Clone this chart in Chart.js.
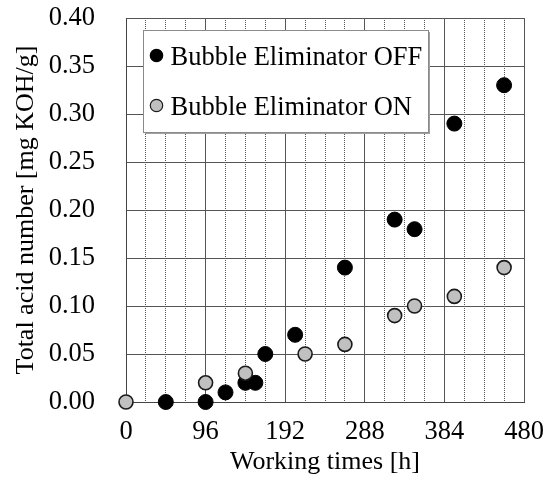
<!DOCTYPE html>
<html>
<head>
<meta charset="utf-8">
<script src="https://cdn.jsdelivr.net/npm/chart.js@4/dist/chart.umd.min.js"></script>
<style>
  html, body { margin: 0; padding: 0; background: #fff; }
  #wrap { width: 552px; height: 477px; }
</style>
</head>
<body>
<div id="wrap"><canvas id="graph"></canvas></div>
<script>
// working time [h] and total acid number [mg KOH/g]
const timesOff = [48, 96, 120, 144, 156, 168, 204, 264, 324, 348, 396, 456];
const tanOff = [0, 0, 0.01, 0.02, 0.02, 0.05, 0.07, 0.14, 0.19, 0.18, 0.29, 0.33];
const timesOn = [0, 96, 144, 216, 264, 324, 348, 396, 456];
const tanOn = [0, 0.02, 0.03, 0.05, 0.06, 0.09, 0.10, 0.11, 0.14];

const labelOff = 'Bubble Eliminator OFF';
const labelOn = 'Bubble Eliminator ON';
const xTitle = 'Working times [h]';
const yTitle = 'Total acid number [mg KOH/g]';

const serif = "'Liberation Serif', 'Times New Roman', serif";

const toPoints = (xs, ys) => xs.map((x, i) => ({ x: x, y: ys[i] }));

// legend drawn inside the plot as a framed box
const boxLegend = {
  id: 'boxLegend',
  afterDatasetsDraw(chart) {
    const { ctx, chartArea } = chart;
    const x = Math.round(chartArea.left + 17);
    const y = Math.round(chartArea.top + 12);
    const w = 285, h = 102;
    ctx.save();
    ctx.fillStyle = '#a0a0a0';
    ctx.fillRect(x + 2, y + 2, w, h);
    ctx.fillStyle = '#fff';
    ctx.fillRect(x, y, w, h);
    ctx.strokeStyle = '#8a8a8a';
    ctx.lineWidth = 1;
    ctx.strokeRect(x + 0.5, y + 0.5, w, h);

    chart.data.datasets.forEach((ds, i) => {
      const base = y + 35 + i * 50;
      ctx.beginPath();
      ctx.arc(x + 13.5, base - 9.5, 6.2, 0, Math.PI * 2);
      ctx.fillStyle = ds.backgroundColor;
      ctx.fill();
      ctx.lineWidth = 1.2;
      ctx.strokeStyle = ds.borderColor;
      ctx.stroke();

      ctx.fillStyle = '#000';
      ctx.font = '26.5px ' + serif;
      ctx.textBaseline = 'alphabetic';
      ctx.fillText(ds.label, x + 27.5, base);
    });
    ctx.restore();
  }
};

const ctx = document.getElementById('graph').getContext('2d');

const chart = new Chart(ctx, {
  type: 'scatter',
  data: {
    datasets: [{
      label: labelOff,
      data: toPoints(timesOff, tanOff),
      backgroundColor: '#000',
      borderColor: '#000',
      borderWidth: 1,
      pointRadius: 7.5,
      order: 1,
      clip: false
    }, {
      label: labelOn,
      data: toPoints(timesOn, tanOn),
      backgroundColor: '#c0c0c0',
      borderColor: '#1a1a1a',
      borderWidth: 1.6,
      pointRadius: 7,
      order: 0,
      clip: false
    }]
  },
  options: {
    responsive: true,
    maintainAspectRatio: false,
    animation: false,
    events: [],
    layout: { autoPadding: false, padding: { left: 0, right: 28, top: 18, bottom: 0 } },
    plugins: {
      legend: { display: false },
      tooltip: { enabled: false }
    },
    scales: {
      x: {
        type: 'linear',
        min: 0,
        max: 480,
        // fixed axis band, no extra room for the end labels
        afterFit(scale) {
          scale.height = 75;
          scale.paddingLeft = 0;
          scale.paddingRight = 0;
        },
        ticks: {
          stepSize: 24,
          autoSkip: false,
          maxRotation: 0,
          padding: 14,
          color: '#000',
          font: { family: serif, size: 26.5 },
          callback: v => (v % 96 === 0 ? String(v) : '')
        },
        grid: {
          drawTicks: false,
          color: '#555',
          lineWidth: 1
        },
        border: {
          color: '#444',
          dash: c => (c.tick && c.tick.value % 96 !== 0 ? [1, 1] : [])
        },
        title: {
          display: true,
          text: xTitle,
          color: '#000',
          font: { family: serif, size: 26, lineHeight: 1 },
          padding: { top: 0, bottom: 2 }
        }
      },
      y: {
        min: 0,
        max: 0.4,
        afterFit(scale) {
          scale.width = 126;
          scale.paddingTop = 0;
          scale.paddingBottom = 0;
        },
        ticks: {
          stepSize: 0.05,
          padding: 31,
          color: '#000',
          font: { family: serif, size: 26.5 },
          callback: v => v.toFixed(2)
        },
        grid: {
          drawTicks: false,
          color: '#555',
          lineWidth: 1
        },
        border: { color: '#444' },
        title: {
          display: true,
          text: yTitle,
          color: '#000',
          font: { family: serif, size: 26, lineHeight: 1 },
          padding: { top: 13, bottom: 0 }
        }
      }
    }
  },
  plugins: [boxLegend]
});
</script>
</body>
</html>
